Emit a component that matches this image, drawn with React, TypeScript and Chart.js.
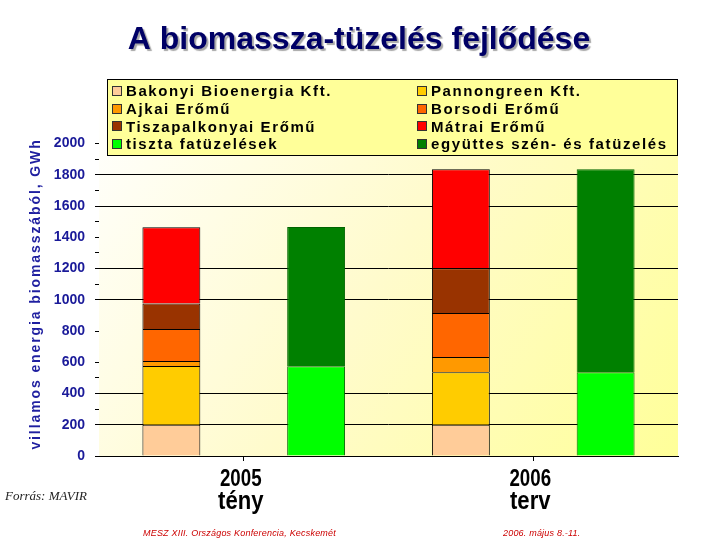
import React, { useEffect, useRef } from 'react';
import { Chart, registerables } from 'chart.js';

Chart.register(...registerables);

// ---- data ----
const categories: string[][] = [['2005', 'tény'], ['2006', 'terv']];
const seriesNames = [
  'Bakonyi Bioenergia Kft.',
  'Pannongreen Kft.',
  'Ajkai Erőmű',
  'Borsodi Erőmű',
  'Tiszapalkonyai Erőmű',
  'Mátrai Erőmű',
  'tiszta fatüzelések',
  'együttes szén- és fatüzelés',
];
const bakonyi = [200, 200];
const pannongreen = [376, 336];
const ajkai = [32, 98];
const borsodi = [205, 281];
const tiszapalkonyai = [163, 287];
const matrai = [488, 633];
const tisztaFa = [574, 536];
const egyuttes = [892, 1300];
const yTickLabels = [0, 200, 400, 600, 800, 1000, 1200, 1400, 1600, 1800, 2000];
const gridValues = [0, 200, 400, 1000, 1200, 1600, 1800];
const minorTickValues = [300, 500, 1100, 1300, 1500, 1700, 1900];

const title = 'A biomassza-tüzelés fejlődése';
const yTitle = 'villamos energia biomasszából, GWh';
const sourceText = 'Forrás: MAVIR';
const footerLeft = 'MESZ XIII. Országos Konferencia, Kecskemét';
const footerRight = '2006. május 8.-11.';

const colors = ['#ffcc99', '#ffcc00', '#ff9900', '#ff6600', '#993300', '#ff0000', '#00ff00', '#008000'];
const FONT = 'Arial, "Liberation Sans", sans-serif';

const decorPlugin = {
  id: 'decor',
  beforeDraw(chart: any) {
    const { ctx, chartArea: a } = chart;
    ctx.save();
    const g = ctx.createLinearGradient(a.left, a.top, a.right, a.bottom);
    g.addColorStop(0, '#ffffff');
    g.addColorStop(0.5, '#fffbcc');
    g.addColorStop(1, '#ffff99');
    ctx.fillStyle = g;
    ctx.fillRect(a.left, a.top - 2, a.right - a.left, a.bottom - a.top + 2);
    ctx.restore();
  },
  afterDraw(chart: any) {
    const { ctx, chartArea: a } = chart;
    ctx.save();

    // Title
    ctx.font = `bold 32px ${FONT}`;
    ctx.textAlign = 'center';
    ctx.textBaseline = 'alphabetic';
    ctx.shadowColor = 'rgba(0,0,0,0.35)';
    ctx.shadowOffsetX = 2;
    ctx.shadowOffsetY = 2;
    ctx.shadowBlur = 1;
    ctx.fillStyle = '#000066';
    ctx.fillText(title, 359, 49);
    ctx.shadowColor = 'rgba(0,0,0,0)';
    ctx.shadowOffsetX = 0;
    ctx.shadowOffsetY = 0;
    ctx.shadowBlur = 0;

    // Legend box
    const lx = 107, ly = 79, lw = a.right - 107, lh = 77;
    ctx.fillStyle = '#ffff99';
    ctx.fillRect(lx, ly, lw, lh);
    ctx.strokeStyle = '#000';
    ctx.lineWidth = 1;
    ctx.strokeRect(lx + 0.5, ly + 0.5, lw - 1, lh - 1);
    ctx.font = `bold 15px ${FONT}`;
    (ctx as any).letterSpacing = '1.6px';
    ctx.textAlign = 'left';
    ctx.textBaseline = 'middle';
    chart.data.datasets.forEach((ds: any, i: number) => {
      const col = i % 2;
      const row = Math.floor(i / 2);
      const sx = col ? 417 : 112;
      const cy = 91 + row * 17.7;
      ctx.fillStyle = ds.backgroundColor;
      ctx.fillRect(sx, Math.round(cy - 5), 10, 10);
      ctx.strokeStyle = '#333';
      ctx.strokeRect(sx + 0.5, Math.round(cy - 5) + 0.5, 9, 9);
      ctx.fillStyle = '#000';
      ctx.fillText(ds.label, sx + 14, cy + 1);
    });
    (ctx as any).letterSpacing = '0px';

    // Y axis title
    ctx.save();
    ctx.translate(36, 294);
    ctx.rotate(-Math.PI / 2);
    ctx.font = `bold 14px ${FONT}`;
    (ctx as any).letterSpacing = '1.9px';
    ctx.fillStyle = '#1f1fa0';
    ctx.textAlign = 'center';
    ctx.textBaseline = 'middle';
    ctx.fillText(yTitle, 0, 0);
    ctx.restore();

    // X category labels (condensed)
    const xs = chart.scales.x;
    (chart.data.labels as string[][]).forEach((lab, i) => {
      const x = xs.getPixelForTick(i);
      ctx.fillStyle = '#000';
      ctx.textAlign = 'center';
      ctx.textBaseline = 'alphabetic';
      ctx.save();
      ctx.translate(x - 3, 486);
      ctx.scale(0.78, 1);
      ctx.font = `bold 24px ${FONT}`;
      ctx.fillText(lab[0], 0, 0);
      ctx.restore();
      ctx.save();
      ctx.translate(x - 3, 509);
      ctx.scale(0.85, 1);
      ctx.font = `bold 26px ${FONT}`;
      ctx.fillText(lab[1], 0, 0);
      ctx.restore();
    });

    // Source
    ctx.font = 'italic 13px "Liberation Serif", "Times New Roman", serif';
    ctx.fillStyle = '#222';
    ctx.textAlign = 'left';
    ctx.textBaseline = 'middle';
    ctx.fillText(sourceText, 5, 497);

    // Footer texts
    ctx.font = `italic 9px ${FONT}`;
    (ctx as any).letterSpacing = '0.2px';
    ctx.fillStyle = '#cc0000';
    ctx.textAlign = 'left';
    ctx.fillText(footerLeft, 143, 533);
    ctx.fillText(footerRight, 503, 533);
    (ctx as any).letterSpacing = '0px';

    ctx.restore();
  },
};

export default function App() {
  const ref = useRef<HTMLCanvasElement>(null);
  useEffect(() => {
    document.body.style.margin = '0';
    const series = [bakonyi, pannongreen, ajkai, borsodi, tiszapalkonyai, matrai, tisztaFa, egyuttes];
    const datasets = series.map((data, i) => ({
      label: seriesNames[i],
      data,
      backgroundColor: colors[i],
      borderColor: i < 6 ? '#000000' : '#006400',
      borderWidth: 1,
      stack: i < 6 ? 'eromuvek' : 'fatuzeles',
    }));
    const chart = new Chart(ref.current as HTMLCanvasElement, {
      type: 'bar',
      data: { labels: categories as any, datasets },
      options: {
        responsive: false,
        animation: false,
        layout: { padding: { top: 81, right: 42, left: 0, bottom: 0 } },
        plugins: {
          legend: { display: false },
          tooltip: { enabled: false },
          title: { display: false },
        },
        datasets: { bar: { categoryPercentage: 1, barPercentage: 0.4 } },
        scales: {
          x: {
            stacked: true,
            grid: { drawOnChartArea: false, offset: false, tickLength: 5, tickColor: '#000', lineWidth: 1 },
            border: { display: true, color: '#000', width: 1 },
            ticks: { display: false },
            afterFit: (s: any) => { s.height = 84; },
          },
          y: {
            stacked: true,
            min: 0,
            max: 2400,
            ticks: {
              stepSize: 100,
              autoSkip: false,
              padding: 10,
              color: '#1a1a99',
              font: { family: FONT, size: 14, weight: 'bold' },
              callback: (v: any) => (yTickLabels.includes(Number(v)) ? String(v) : ''),
            },
            grid: {
              lineWidth: 1,
              tickLength: 4,
              color: (c: any) => (c.tick && gridValues.includes(c.tick.value) ? '#000' : 'rgba(0,0,0,0)'),
              tickColor: (c: any) =>
                c.tick && (yTickLabels.includes(c.tick.value) || minorTickValues.includes(c.tick.value)) ? '#000' : 'rgba(0,0,0,0)',
            },
            border: { display: false },
            afterFit: (s: any) => { s.width = 99; },
          },
        },
      } as any,
      plugins: [decorPlugin],
    });
    return () => chart.destroy();
  }, []);
  return (
    <div style={{ position: 'fixed', left: 0, top: 0, width: 720, height: 540, background: '#fff' }}>
      <canvas ref={ref} width={720} height={540} />
    </div>
  );
}
